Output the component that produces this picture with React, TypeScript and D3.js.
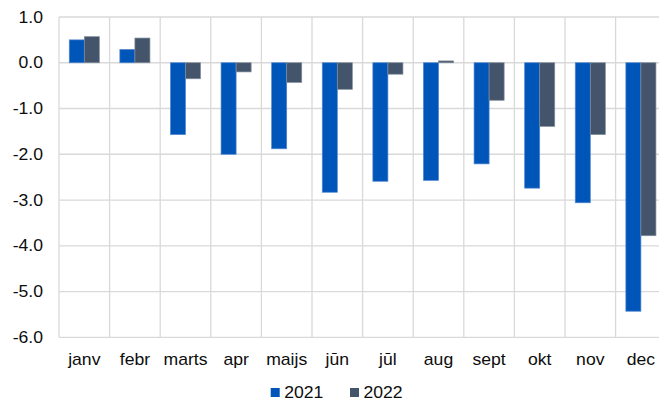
import React, { useEffect, useRef } from 'react';
import * as d3 from 'd3';

const months = ['janv', 'febr', 'marts', 'apr', 'maijs', 'jūn', 'jūl', 'aug', 'sept', 'okt', 'nov', 'dec'];
const series2021 = [0.5, 0.29, -1.57, -2.0, -1.88, -2.83, -2.59, -2.57, -2.21, -2.74, -3.06, -5.43];
const series2022 = [0.57, 0.54, -0.35, -0.2, -0.43, -0.58, -0.25, 0.04, -0.82, -1.39, -1.57, -3.78];
const yTicks = [1, 0, -1, -2, -3, -4, -5, -6];
const seriesNames = ['2021', '2022'];
const colors = ['#0055b8', '#44546a'];
const outlines = ['#4f86d0', '#7f8d9b'];

const W = 659;
const H = 401;
const FONT = 'Liberation Sans, Arial, sans-serif';
const SX = 1.1;

const App = () => {
    const svgRef = useRef<SVGSVGElement | null>(null);

    useEffect(() => {
        if (!svgRef.current) return;
        const svg = d3.select(svgRef.current);
        svg.selectAll('*').remove();

        const left = 59;
        const right = 666.2;
        const top = 17;
        const bottom = 337.3;

        const x = d3.scaleBand<string>().domain(months).range([left, right]).padding(0);
        const y = d3.scaleLinear().domain([-6, 1]).range([bottom, top]);
        const barW = x.bandwidth() * 0.297;

        const grid = svg.append('g');
        // horizontal grid
        grid.selectAll('line.h')
            .data(yTicks)
            .enter()
            .append('line')
            .attr('x1', left)
            .attr('x2', right)
            .attr('y1', (d) => y(d))
            .attr('y2', (d) => y(d))
            .attr('stroke', '#d9d9d9')
            .attr('stroke-width', 1.3);
        // vertical grid
        const edges = months.map((m) => x(m)!).concat([right]);
        grid.selectAll('line.v')
            .data(edges)
            .enter()
            .append('line')
            .attr('x1', (d) => d)
            .attr('x2', (d) => d)
            .attr('y1', top)
            .attr('y2', bottom)
            .attr('stroke', '#d9d9d9')
            .attr('stroke-width', 1.3);

        // bars
        [series2021, series2022].forEach((vals, si) => {
            svg.append('g')
                .selectAll('rect')
                .data(vals)
                .enter()
                .append('rect')
                .attr('x', (d, i) => x(months[i])! + x.bandwidth() / 2 - barW + si * barW)
                .attr('y', (d) => y(Math.max(0, d)))
                .attr('width', barW)
                .attr('height', (d) => Math.abs(y(d) - y(0)))
                .attr('fill', colors[si])
                .attr('stroke', outlines[si])
                .attr('stroke-width', 0.7);
        });

        // y labels
        svg.append('g')
            .selectAll('text')
            .data(yTicks)
            .enter()
            .append('text')
            .attr('transform', (d) => `translate(43,${y(d) + 5.7}) scale(${SX},1)`)
            .attr('text-anchor', 'end')
            .attr('font-family', FONT)
            .attr('font-size', 16)
            .attr('fill', '#0d0d0d')
            .text((d) => d.toFixed(1));

        // x labels
        svg.append('g')
            .selectAll('text')
            .data(months)
            .enter()
            .append('text')
            .attr('transform', (d) => `translate(${x(d)! + x.bandwidth() / 2},365) scale(${SX},1)`)
            .attr('text-anchor', 'middle')
            .attr('font-family', FONT)
            .attr('font-size', 16)
            .attr('fill', '#0d0d0d')
            .text((d) => d);

        // legend
        const legendX = [270.7, 350];
        const legend = svg.append('g');
        seriesNames.forEach((name, i) => {
            legend.append('rect')
                .attr('x', legendX[i])
                .attr('y', 388)
                .attr('width', 9)
                .attr('height', 9)
                .attr('fill', colors[i]);
            legend.append('text')
                .attr('transform', `translate(${legendX[i] + 13.5},397.5) scale(${SX},1)`)
                .attr('font-family', FONT)
                .attr('font-size', 16)
                .attr('fill', '#0d0d0d')
                .text(name);
        });
    }, []);

    return (
        <svg
            ref={svgRef}
            width={W}
            height={H}
            style={{ position: 'absolute', left: 0, top: 0, background: '#fff' }}
        ></svg>
    );
};

export default App;
